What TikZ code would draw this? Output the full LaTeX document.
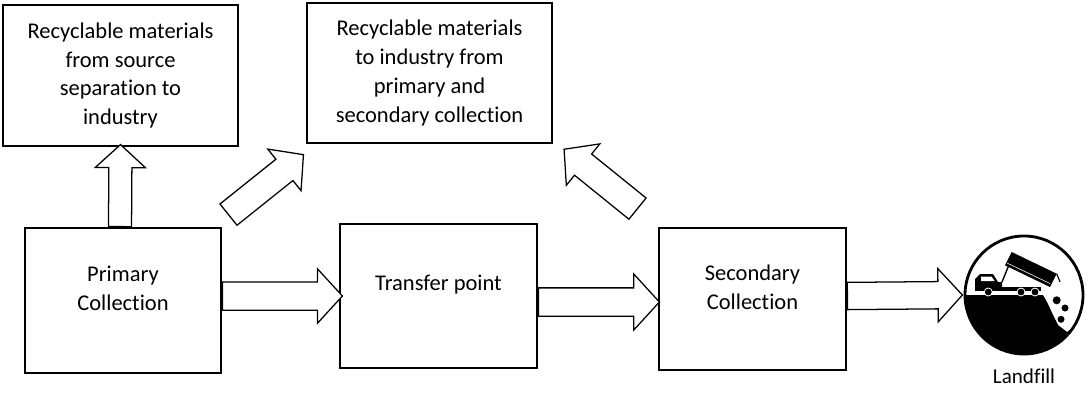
\documentclass[tikz,border=0pt]{standalone}
\usepackage{fontspec}
\setmainfont{Carlito}[Ligatures=NoCommon]
\usetikzlibrary{positioning,shapes.arrows}

\begin{document}
\begin{tikzpicture}[x=0.25mm, y=-0.25mm,
	box/.style={draw, line width=1.1pt, inner sep=0pt, align=center, font=\fontsize{16}{20.6}\selectfont},
	txt/.style={align=center, font=\fontsize{16}{20.6}\selectfont},
	bigarrow/.style={single arrow, draw, fill=white, line width=0.9pt, inner xsep=0pt, inner ysep=3.25mm, single arrow head extend=3.25mm, single arrow tip angle=95, sloped, allow upside down, pos=0, anchor=tail}]
	\useasboundingbox (0,0) rectangle (1088,394);
	\node[box, minimum width=58.75mm, minimum height=35.25mm] (srcsep) at (120.5,75.5) {Recyclable materials\\from source\\separation to\\industry};
	\node[box, minimum width=61.25mm, minimum height=35mm] (toind) at (429.5,73) {Recyclable materials\\to industry from\\primary and\\secondary collection};
	\node[box, minimum width=49mm, minimum height=36.25mm] (prim) at (123,300.5) {};
	\node[box, minimum width=49.25mm, minimum height=36mm] (trans) at (438.5,296) {};
	\node[box, minimum width=46.75mm, minimum height=35.5mm] (sec) at (752.5,299) {};
	\node[txt] (prim-t) at ([yshift=3mm]prim.center) {Primary\\Collection};
	\node[txt] (trans-t) at ([yshift=2.75mm]trans.center) {Transfer point};
	\node[txt] (sec-t) at ([yshift=3mm]sec.center) {Secondary\\Collection};
	\node[circle, draw, line width=2pt, inner sep=0pt, minimum size=29.5mm] (landfill) at (1024,295) {};
	\node[txt, font=\fontsize{15}{18}\selectfont, below=2.2mm of landfill] (landfill-t) {Landfill};
	% block arrows
	\coordinate (d1a) at (228,215);
	\coordinate (d1b) at (303,155);
	\coordinate (d2a) at (638,209);
	\coordinate (d2b) at (565,150);
	\path ([xshift=-0.75mm]prim.north) -- (srcsep.south) node[bigarrow, minimum height=20.5mm, inner ysep=2.725mm, single arrow head extend=3.4mm] (up) {};
	\path (d1a) -- (d1b) node[bigarrow, minimum height=24mm] (diag1) {};
	\path (d2a) -- (d2b) node[bigarrow, minimum height=23.6mm] (diag2) {};
	\path ([yshift=1.1mm]prim.east) -- (trans.west) node[bigarrow, minimum height=30mm, inner ysep=3.375mm] (pt) {};
	\path ([yshift=-1.5mm]trans.east) -- ([yshift=-0.75mm]sec.west) node[bigarrow, minimum height=30.25mm, inner ysep=3.375mm, single arrow head extend=3.5mm] (ts) {};
	\path ([yshift=0.75mm]sec.east) -- (landfill.west) node[bigarrow, minimum height=28.75mm] (sl) {};
	% landfill icon
	\begin{scope}[shift={(landfill.center)}]
		\fill (-59,0) arc[start angle=180, end angle=33.5, radius=59] -- (43,37) -- (34,30) -- (29,20) -- (24,9) -- (19,0) -- cycle;
		\fill (32.7,5.3) circle[radius=4];
		\fill (41,13) circle[radius=3.5];
		\fill (37,24.3) circle[radius=3.5];
		\fill (-12.3,-43) -- (32.7,-21.3) -- (26,-8) -- (-19,-29.7) -- cycle;
		\draw[white, line width=0.4pt] (-17,-32) -- (26,-11.5);
		\draw[line width=0.8pt] (32.7,-21.3) -- (36,-13);
		\draw[line width=1pt] (-22,-13) -- (-15.5,-29);
		\fill (-49,-8) -- (-49,-16) -- (-44,-21) -- (-31,-21) -- (-26,-13) -- (-22,-13) -- (-22,-8) -- cycle;
		\fill[white] (-43,-18.5) -- (-32.5,-18.5) -- (-29.5,-14) -- (-43,-14) -- cycle;
		\fill (-49,-8) rectangle (17,-4.5);
		\foreach \wx in {-35.7,-3,11}
			\filldraw[draw=white, line width=0.6pt] (\wx,-3) circle[radius=4];
	\end{scope}
\end{tikzpicture}
\end{document}
